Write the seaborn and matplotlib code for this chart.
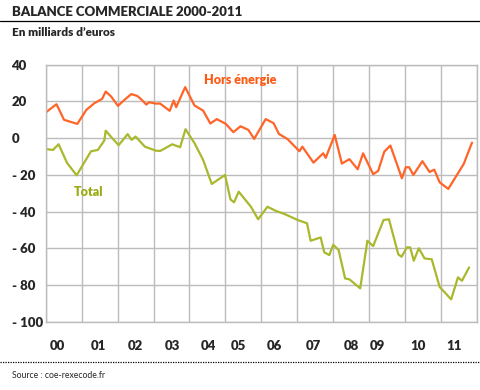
import numpy as np
import pandas as pd
import seaborn as sns
import matplotlib.pyplot as plt
from matplotlib.lines import Line2D

# ------------------ DONNEES ------------------ #

# Solde hors énergie (milliards d'euros), dates en années décimales
hors_x = [2000.00, 2000.12, 2000.30, 2000.51, 2000.88, 2001.13, 2001.35, 2001.57,
          2001.67, 2001.82, 2002.01, 2002.21, 2002.38, 2002.55, 2002.67, 2002.80,
          2002.88, 2003.07, 2003.18, 2003.45, 2003.56, 2003.63, 2003.88, 2004.14,
          2004.38, 2004.58, 2004.76, 2005.01, 2005.22, 2005.42, 2005.64, 2005.80,
          2006.12, 2006.34, 2006.49, 2006.73, 2007.06, 2007.14, 2007.45, 2007.72,
          2007.79, 2008.04, 2008.24, 2008.45, 2008.68, 2008.83, 2009.11, 2009.25,
          2009.42, 2009.59, 2009.91, 2010.02, 2010.11, 2010.23, 2010.48, 2010.68,
          2010.81, 2010.96, 2011.20, 2011.40, 2011.63, 2011.86]
hors_y = [14.0, 15.8, 18.5, 10.0, 7.8, 15.4, 19.0, 21.4,
          25.4, 22.7, 17.6, 21.2, 24.0, 23.0, 20.9, 18.3,
          19.6, 18.8, 18.9, 14.9, 20.5, 16.9, 27.8, 17.8,
          15.0, 8.0, 10.4, 7.8, 3.3, 6.5, 4.5, -0.4,
          10.4, 8.2, 2.3, -0.5, -7.1, -4.6, -13.3, -8.2,
          -10.7, 1.8, -13.8, -11.4, -16.9, -8.2, -19.6, -17.8,
          -7.3, -4.0, -21.8, -15.8, -15.8, -20.0, -12.5, -18.4,
          -17.1, -24.0, -27.6, -21.3, -14.0, -2.4]

# Solde total
total_x = [2000.05, 2000.20, 2000.36, 2000.59, 2000.86, 2001.26, 2001.45, 2001.63,
           2001.67, 2001.83, 2002.03, 2002.28, 2002.39, 2002.50, 2002.76, 2003.07,
           2003.19, 2003.52, 2003.74, 2003.89, 2004.14, 2004.38, 2004.62, 2004.99,
           2005.14, 2005.24, 2005.37, 2005.71, 2005.91, 2006.17, 2006.40, 2006.65,
           2007.01, 2007.27, 2007.37, 2007.65, 2007.75, 2007.89, 2008.00, 2008.15,
           2008.33, 2008.45, 2008.75, 2008.95, 2009.11, 2009.40, 2009.55, 2009.81,
           2009.90, 2010.05, 2010.14, 2010.24, 2010.38, 2010.54, 2010.74, 2010.96,
           2011.28, 2011.47, 2011.58, 2011.78]
total_y = [-6.0, -6.4, -3.3, -13.3, -20.2, -7.1, -6.4, -1.3,
           4.1, 0.5, -3.8, 2.2, -0.9, 0.9, -4.6, -6.8,
           -6.9, -3.3, -4.9, 4.9, -2.7, -11.8, -24.9, -20.0,
           -33.3, -34.9, -29.1, -37.3, -44.1, -37.3, -39.5, -41.3,
           -44.5, -46.3, -55.8, -54.0, -62.1, -63.6, -58.0, -60.9,
           -76.3, -76.8, -81.7, -55.8, -58.7, -44.5, -44.1, -63.2,
           -64.5, -59.4, -59.4, -66.7, -59.9, -65.4, -65.9, -80.9,
           -87.7, -75.7, -77.6, -70.3]

y_ticks = [40, 20, 0, -20, -40, -60, -80, -100]
y_labels = ["40", "20", "0", "- 20", "- 40", "- 60", "- 80", "- 100"]
year_labels = ["00", "01", "02", "03", "04", "05", "06", "07", "08", "09", "10", "11"]
year_label_pos = [2000.32, 2001.48, 2002.50, 2003.52, 2004.52, 2005.37,
                  2006.37, 2007.44, 2008.50, 2009.23, 2010.36, 2011.35]

# ------------------ STYLE ------------------ #

sns.set_style("white")
plt.rcParams["font.family"] = ["Lato", "DejaVu Sans"]

ORANGE = "#ff6428"
GREEN = "#a9b82c"
GRID = "#bcbcbc"

fig = plt.figure(figsize=(4.8, 3.9), dpi=100)
ax = fig.add_axes([0.0952, 0.1744, 0.8986, 0.6597])

sns.lineplot(x=hors_x, y=hors_y, sort=False, estimator=None,
             color=ORANGE, linewidth=1.6, ax=ax)
sns.lineplot(x=total_x, y=total_y, sort=False, estimator=None,
             color=GREEN, linewidth=1.6, ax=ax)

ax.set_xlim(2000, 2012)
ax.set_ylim(-100, 40)

ax.set_xticks(range(2000, 2013))
ax.set_xticklabels([])
ax.set_xticks(year_label_pos, minor=True)
ax.set_xticklabels(year_labels, minor=True, fontsize=9.5, fontweight="heavy")
ax.tick_params(axis="x", which="both", length=0, pad=13)

ax.set_yticks(y_ticks)
ax.set_yticklabels(y_labels, fontsize=9.5, fontweight="heavy", ha="left")
ax.tick_params(axis="y", length=0, pad=24.6)

ax.grid(True, which="major", color=GRID, linewidth=1)
for s in ax.spines.values():
    s.set_color(GRID)
    s.set_linewidth(1)

ax.text(2004.4, 31.5, "Hors énergie", color="#ff5a14", fontsize=9,
        fontweight="heavy", va="center")
ax.text(2000.78, -29.5, "Total", color="#9aab14", fontsize=9,
        fontweight="heavy", va="center")

# ------------------ TITRES ------------------ #

fig.text(12 / 480, 1 - 12 / 390, "BALANCE COMMERCIALE 2000-2011",
         fontsize=9.5, fontweight="heavy", va="center", ha="left")
fig.add_artist(Line2D([0, 1], [1 - 20.5 / 390] * 2, color="black", linewidth=0.9))
fig.text(12 / 480, 1 - 32.5 / 390, "En milliards d\u2019euros",
         fontsize=8.5, fontweight="heavy", va="center", ha="left")

fig.add_artist(Line2D([0, 1], [1 - 362 / 390] * 2, color="black",
                      linewidth=0.9, linestyle=(0, (1, 1))))
fig.text(12 / 480, 1 - 375 / 390, "Source : coe-rexecode.fr",
         fontsize=6.2, va="center", ha="left")

plt.savefig("out.png", dpi=100)
plt.close()
